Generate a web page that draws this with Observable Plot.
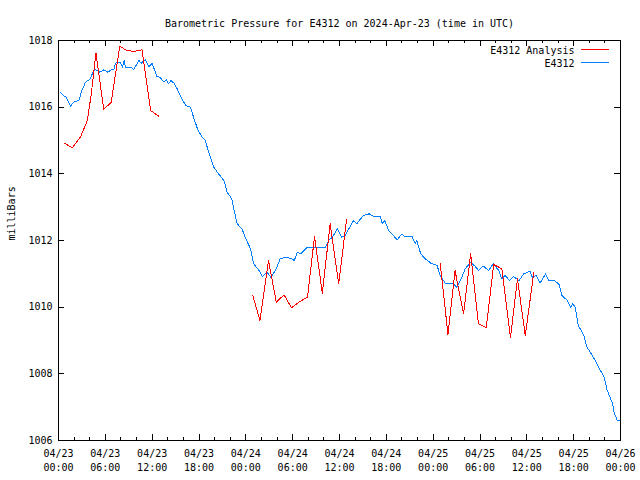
<!DOCTYPE html>
<html><head><meta charset="utf-8">
<script src="https://cdn.jsdelivr.net/npm/d3@7"></script>
<script src="https://cdn.jsdelivr.net/npm/@observablehq/plot@0.6"></script>
<style>body{margin:0;background:#fff}</style>
</head><body><div id="chart"></div>
<script>
const title = "Barometric Pressure for E4312 on 2024-Apr-23 (time in UTC)";
const yLabel = "milliBars";
const seriesNames = ["E4312 Analysis", "E4312"];
const seriesColors = ["#ff0000", "#0080ff"];
const xMajorHours = [0, 6, 12, 18, 24, 30, 36, 42, 48, 54, 60, 66, 72];
const xMinorHours = [2, 4, 8, 10, 14, 16, 20, 22, 26, 28, 32, 34, 38, 40, 44, 46, 50, 52, 56, 58, 62, 64, 68, 70];
const xTickLabels = ["04/23\n00:00", "04/23\n06:00", "04/23\n12:00", "04/23\n18:00",
  "04/24\n00:00", "04/24\n06:00", "04/24\n12:00", "04/24\n18:00",
  "04/25\n00:00", "04/25\n06:00", "04/25\n12:00", "04/25\n18:00", "04/26\n00:00"];
const yTicks = [1006, 1008, 1010, 1012, 1014, 1016, 1018];

// E4312 observations (hours since 2024-04-23 00:00 UTC)
const obsHours = [0.26, 0.6, 1.0, 1.54, 1.9, 2.6, 3.0, 3.46, 4.1, 4.4, 4.74, 5.3, 5.8, 6.3, 6.8, 7.1, 7.3, 7.9, 8.2, 8.4, 8.6, 9.4, 9.6, 10.3, 10.6, 11.1, 11.6, 12.0, 12.4, 12.6, 13.0, 13.5, 13.8, 14.1, 14.4, 14.8, 15.2, 15.8, 16.3, 16.9, 17.3, 17.8, 18.4, 18.8, 19.3, 19.9, 20.5, 21.2, 21.6, 22.2, 22.5, 22.9, 23.5, 24.0, 24.6, 25.0, 25.7, 26.1, 26.7, 27.2, 27.8, 28.4, 29.1, 29.9, 30.2, 30.6, 31.0, 31.9, 34.2, 34.6, 35.1, 35.7, 36.3, 36.7, 37.2, 37.8, 38.2, 38.7, 39.1, 39.8, 40.4, 41.2, 41.5, 41.8, 42.3, 42.7, 43.4, 44.0, 44.3, 45.3, 45.7, 45.9, 46.4, 47.0, 47.7, 48.5, 48.9, 49.6, 50.6, 51.0, 51.5, 52.1, 52.8, 53.4, 53.8, 54.3, 54.5, 55.1, 55.7, 56.4, 56.8, 57.2, 57.8, 58.3, 59.0, 59.6, 60.4, 60.7, 61.2, 61.7, 62.4, 62.8, 63.5, 64.1, 64.5, 65.2, 65.6, 65.9, 66.2, 66.6, 67.3, 67.7, 68.4, 69.2, 69.9, 70.3, 71.0, 71.2, 71.6, 71.9];
const obsValues = [1016.45, 1016.35, 1016.3, 1016.02, 1016.15, 1016.2, 1016.5, 1016.75, 1016.85, 1017.05, 1017.12, 1017.05, 1017.12, 1017.05, 1017.12, 1017.12, 1017.32, 1017.35, 1017.2, 1017.4, 1017.2, 1017.18, 1017.12, 1017.4, 1017.32, 1017.42, 1017.22, 1017.32, 1017.05, 1016.92, 1016.9, 1016.75, 1016.82, 1016.7, 1016.8, 1016.72, 1016.55, 1016.25, 1016.05, 1016.0, 1015.7, 1015.35, 1015.1, 1015.0, 1014.6, 1014.2, 1014.0, 1013.8, 1013.45, 1013.25, 1012.9, 1012.5, 1012.35, 1012.05, 1011.75, 1011.3, 1011.1, 1010.92, 1011.05, 1010.9, 1011.1, 1011.45, 1011.5, 1011.45, 1011.4, 1011.65, 1011.6, 1011.8, 1011.8, 1012.0, 1012.1, 1012.35, 1012.1, 1012.15, 1012.35, 1012.6, 1012.5, 1012.65, 1012.75, 1012.8, 1012.72, 1012.72, 1012.5, 1012.6, 1012.3, 1012.2, 1012.02, 1012.2, 1012.12, 1012.12, 1011.9, 1012.0, 1011.6, 1011.45, 1011.32, 1011.25, 1010.95, 1010.7, 1010.7, 1010.6, 1010.8, 1011.15, 1011.35, 1011.22, 1011.1, 1011.22, 1011.22, 1011.1, 1011.3, 1011.1, 1010.85, 1010.95, 1010.8, 1010.92, 1010.8, 1011.0, 1011.08, 1010.9, 1010.95, 1010.72, 1011.0, 1010.8, 1010.8, 1010.7, 1010.35, 1010.2, 1010.0, 1010.1, 1010.0, 1009.45, 1009.15, 1008.8, 1008.55, 1008.2, 1007.9, 1007.5, 1007.1, 1006.82, 1006.6, 1006.6];

// E4312 Analysis, three separate runs
const anaSegment = [1,1,1,1,1,1,1,1,1,1,1,1,1,1, 2,2,2,2,2,2,2,2,2,2,2,2,2, 3,3,3,3,3,3,3,3,3,3,3,3,3];
const anaHours = [0.77, 1.75, 2.8, 3.7, 4.2, 4.8, 5.8, 6.75, 7.85, 8.6, 9.6, 10.7, 11.8, 12.85,
  24.9, 25.8, 26.9, 27.9, 28.9, 29.85, 30.8, 31.9, 32.8, 33.8, 34.8, 35.9, 36.9,
  48.9, 49.9, 50.8, 51.9, 52.8, 53.8, 54.8, 55.75, 56.8, 57.9, 58.8, 59.8, 60.9];
const anaValues = [1014.92, 1014.78, 1015.1, 1015.6, 1016.4, 1017.62, 1015.93, 1016.15, 1017.83, 1017.72, 1017.67, 1017.72, 1015.9, 1015.73,
  1010.35, 1009.6, 1011.4, 1010.15, 1010.37, 1009.98, 1010.15, 1010.3, 1012.12, 1010.42, 1012.5, 1010.7, 1012.62,
  1011.32, 1009.18, 1011.1, 1009.8, 1011.6, 1009.5, 1009.38, 1011.28, 1011.15, 1009.08, 1010.85, 1009.15, 1011.05];

const obs = obsHours.map((h, i) => ({h, v: obsValues[i]}));
const ana = anaHours.map((h, i) => ({h, v: anaValues[i], seg: anaSegment[i]}));
const xTicks = xMajorHours.map((h, i) => ({h, label: xTickLabels[i]}));

const frameW = 562, frameH = 400;

function legendSwatches(...args) {
  const dims = args.find(a => a && typeof a === "object" && "marginTop" in a && "width" in a) || {width: 640, marginRight: 20, marginTop: 40};
  const {width, marginRight, marginTop} = dims;
  const g = d3.create("svg:g");
  seriesColors.forEach((c, i) => {
    g.append("line")
      .attr("x1", width - marginRight - 39).attr("x2", width - marginRight - 11)
      .attr("y1", marginTop + 9.5 + i * 13).attr("y2", marginTop + 9.5 + i * 13)
      .attr("stroke", c).attr("stroke-width", 1).attr("shape-rendering", "crispEdges");
  });
  return g.node();
}

const chart = Plot.plot({
  width: 640, height: 480,
  marginLeft: 58, marginRight: 20, marginTop: 40, marginBottom: 40,
  x: {domain: [0, 72], axis: null},
  y: {domain: [1006, 1018], axis: null},
  style: {fontFamily: "'DejaVu Sans Mono', monospace", fontSize: "10px", background: "white", color: "black"},
  marks: [
    Plot.line(obs, {x: "h", y: "v", stroke: seriesColors[1], strokeWidth: 1, shapeRendering: "crispEdges"}),
    Plot.line(ana, {x: "h", y: "v", z: "seg", stroke: seriesColors[0], strokeWidth: 1, shapeRendering: "crispEdges"}),
    Plot.frame({stroke: "black", strokeWidth: 1, shapeRendering: "crispEdges"}),
    // x ticks (inward), bottom and top
    Plot.tickX(xMinorHours, {x: d => d, insetTop: frameH - 3, stroke: "black", shapeRendering: "crispEdges"}),
    Plot.tickX(xMinorHours, {x: d => d, insetBottom: frameH - 3, stroke: "black", shapeRendering: "crispEdges"}),
    Plot.tickX(xMajorHours, {x: d => d, insetTop: frameH - 6, stroke: "black", shapeRendering: "crispEdges"}),
    Plot.tickX(xMajorHours, {x: d => d, insetBottom: frameH - 6, stroke: "black", shapeRendering: "crispEdges"}),
    // y ticks (inward), left and right
    Plot.tickY(yTicks, {y: d => d, insetRight: frameW - 6, stroke: "black", shapeRendering: "crispEdges"}),
    Plot.tickY(yTicks, {y: d => d, insetLeft: frameW - 6, stroke: "black", shapeRendering: "crispEdges"}),
    // tick labels
    Plot.text(xTicks, {x: "h", text: "label", frameAnchor: "bottom", lineAnchor: "top", dy: 7, lineHeight: 1.4, fill: "black"}),
    Plot.text(yTicks, {y: d => d, text: d => String(d), frameAnchor: "left", textAnchor: "end", dx: -6, fill: "black"}),
    // axis label and title
    Plot.text([yLabel], {frameAnchor: "left", dx: -47, rotate: -90, fill: "black"}),
    Plot.text([title], {frameAnchor: "top", dy: -21, fill: "black"}),
    // legend
    Plot.text([seriesNames[0]], {frameAnchor: "top-right", textAnchor: "end", lineAnchor: "middle", dx: -46, dy: 10, fill: "black"}),
    Plot.text([seriesNames[1]], {frameAnchor: "top-right", textAnchor: "end", lineAnchor: "middle", dx: -46, dy: 23, fill: "black"}),
    legendSwatches
  ]
});
document.getElementById("chart").appendChild(chart);
</script>
</body></html>
